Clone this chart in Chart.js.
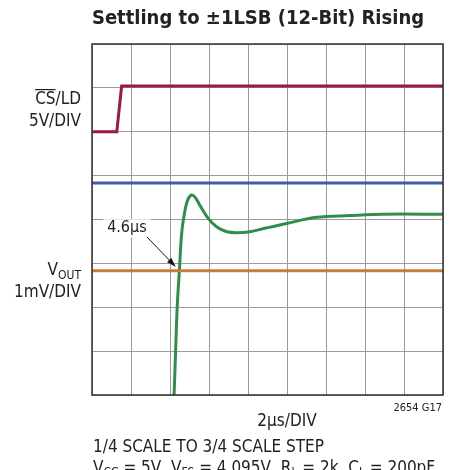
<!DOCTYPE html>
<html>
<head>
<meta charset="utf-8">
<script src="https://cdn.jsdelivr.net/npm/chart.js@4.4.1/dist/chart.umd.min.js"></script>
<style>
  body { margin: 0; background: #fff; }
  #wrap { width: 454px; height: 470px; }
</style>
</head>
<body>
<div id="wrap"><canvas id="settleChart" width="454" height="470"></canvas></div>
<script>
// time in µs (2µs/DIV, 9 divisions), level in divisions (8 divisions)
var csTime = [0, 1.27, 1.52, 18];
var csLevel = [6.0, 6.0, 7.04, 7.04];

var upperTime = [0, 18];
var upperLevel = [4.83, 4.83];

var lowerTime = [0, 18];
var lowerLevel = [2.83, 2.83];

var voutTime = [4.21, 4.29, 4.37, 4.48, 4.60, 4.77, 4.92, 5.11, 5.30, 5.55, 5.97, 6.40, 6.92, 7.43, 8.10, 8.87, 9.98, 11.52, 13.23, 14.92, 18];
var voutLevel = [0, 1.03, 2.01, 2.83, 3.69, 4.21, 4.46, 4.56, 4.50, 4.31, 4.02, 3.83, 3.72, 3.70, 3.72, 3.80, 3.91, 4.05, 4.09, 4.12, 4.12];

var xTicks = [0, 2, 4, 6, 8, 10, 12, 14, 16, 18];
var yTicks = [0, 1, 2, 3, 4, 5, 6, 7, 8];

var FONT = '"Liberation Sans Narrow", "DejaVu Sans Condensed", sans-serif';

function toPoints(xs, ys) {
    return xs.map(function (x, i) { return { x: x, y: ys[i] }; });
}

var textPlugin = {
    id: 'scopeText',
    afterDraw: function (chart) {
        var c = chart.ctx;
        var a = chart.chartArea;
        var xs = chart.scales.x, ys = chart.scales.y;
        c.save();

        // frame
        c.strokeStyle = '#333';
        c.lineWidth = 1.5;
        c.strokeRect(a.left, a.top, a.right - a.left, a.bottom - a.top);

        c.fillStyle = '#222';
        c.textBaseline = 'middle';

        // title
        c.textAlign = 'center';
        c.font = 'bold 20px ' + FONT;
        c.fillText('Settling to ±1LSB (12-Bit) Rising', 258, 19);

        // left channel labels
        c.textAlign = 'right';
        c.font = '17px ' + FONT;
        c.fillText('CS/LD', 81, 100);
        var csw = c.measureText('CS/LD').width;
        var sw = c.measureText('CS').width;
        c.fillRect(81 - csw, 89, sw, 1.2);
        c.fillText('5V/DIV', 81, 122);

        c.font = '12px ' + FONT;
        var subW = c.measureText('OUT').width;
        c.fillText('OUT', 81, 276);
        c.font = '17px ' + FONT;
        c.fillText('V', 81 - subW, 271);
        c.fillText('1mV/DIV', 81, 293);

        // annotation
        var tx = xs.getPixelForValue(1.79), ty = ys.getPixelForValue(3.8);
        c.font = '16px ' + FONT;
        c.textAlign = 'center';
        var lw = c.measureText('4.6µs').width;
        c.fillStyle = '#fff';
        c.fillRect(tx - lw / 2 - 4, ty - 9, lw + 8, 18);
        c.fillStyle = '#222';
        c.fillText('4.6µs', tx, ty);

        var x0 = xs.getPixelForValue(2.82), y0 = ys.getPixelForValue(3.6);
        var x1 = xs.getPixelForValue(4.3), y1 = ys.getPixelForValue(2.92);
        var ang = Math.atan2(y1 - y0, x1 - x0);
        c.strokeStyle = '#111';
        c.lineWidth = 1;
        c.beginPath();
        c.moveTo(x0, y0);
        c.lineTo(x1 - 6 * Math.cos(ang), y1 - 6 * Math.sin(ang));
        c.stroke();
        c.beginPath();
        c.moveTo(x1, y1);
        c.lineTo(x1 - 10 * Math.cos(ang - 0.3), y1 - 10 * Math.sin(ang - 0.3));
        c.lineTo(x1 - 10 * Math.cos(ang + 0.3), y1 - 10 * Math.sin(ang + 0.3));
        c.closePath();
        c.fillStyle = '#111';
        c.fill();

        // bottom texts
        c.fillStyle = '#222';
        c.font = '11px ' + FONT;
        c.textAlign = 'right';
        c.fillText('2654 G17', 442, 408);

        c.font = '17px ' + FONT;
        c.textAlign = 'center';
        c.fillText('2µs/DIV', 287, 422);

        c.textAlign = 'left';
        c.fillText('1/4 SCALE TO 3/4 SCALE STEP', 93, 448);

        // V_CC = 5V, V_FS = 4.095V, R_L = 2k, C_L = 200pF
        var parts = [['V', 'CC', ' = 5V, '], ['V', 'FS', ' = 4.095V, '], ['R', 'L', ' = 2k, '], ['C', 'L', ' = 200pF']];
        var px = 93, py = 469;
        parts.forEach(function (p) {
            c.font = '17px ' + FONT;
            c.fillText(p[0], px, py);
            px += c.measureText(p[0]).width;
            c.font = '12px ' + FONT;
            c.fillText(p[1], px, py + 4);
            px += c.measureText(p[1]).width;
            c.font = '17px ' + FONT;
            c.fillText(p[2], px, py);
            px += c.measureText(p[2]).width;
        });

        c.restore();
    }
};

var ctx = document.getElementById('settleChart').getContext('2d');
var settleChart = new Chart(ctx, {
    type: 'scatter',
    data: {
        datasets: [
            { label: 'CS/LD', data: toPoints(csTime, csLevel), borderColor: '#9c1a3c', borderWidth: 3, showLine: true, pointRadius: 0 },
            { label: 'upper', data: toPoints(upperTime, upperLevel), borderColor: '#3d5ca8', borderWidth: 3, showLine: true, pointRadius: 0 },
            { label: 'lower', data: toPoints(lowerTime, lowerLevel), borderColor: '#c67d3c', borderWidth: 3, showLine: true, pointRadius: 0 },
            { label: 'VOUT', data: toPoints(voutTime, voutLevel), borderColor: '#2f8f4a', borderWidth: 3, showLine: true, pointRadius: 0, tension: 0.35 }
        ]
    },
    options: {
        responsive: false,
        animation: false,
        layout: { padding: { left: 92, right: 11, top: 44, bottom: 75 } },
        plugins: {
            legend: { display: false },
            tooltip: { enabled: false },
            title: { display: false }
        },
        scales: {
            x: {
                type: 'linear', min: 0, max: 18,
                afterBuildTicks: function (s) { s.ticks = xTicks.map(function (v) { return { value: v }; }); },
                ticks: { display: false },
                grid: { color: '#9a9a9a', lineWidth: 1, drawTicks: false },
                border: { display: false }
            },
            y: {
                type: 'linear', min: 0, max: 8,
                afterBuildTicks: function (s) { s.ticks = yTicks.map(function (v) { return { value: v }; }); },
                ticks: { display: false },
                grid: { color: '#9a9a9a', lineWidth: 1, drawTicks: false },
                border: { display: false }
            }
        }
    },
    plugins: [textPlugin]
});
</script>
</body>
</html>
